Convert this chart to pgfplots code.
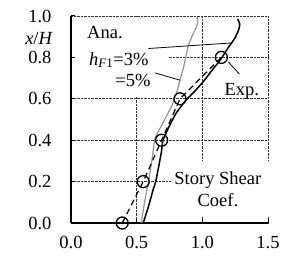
\documentclass[border=0pt]{standalone}
\usepackage{fontspec}
\setmainfont{Liberation Serif}
\usepackage{pgfplots}
\pgfplotsset{compat=1.18}
\newcommand{\fs}{\rmfamily\fontsize{18.5bp}{22bp}\selectfont}
\begin{document}
\begin{tikzpicture}[font=\fs]
\begin{axis}[
  scale only axis, width=197bp, height=207bp,
  xmin=0, xmax=1.5, ymin=0, ymax=1,
  axis lines*=left, axis line style={-, line width=2pt},
  xtick={0,0.5,1,1.5}, ytick={0,0.2,0.4,0.6,0.8,1.0},
  tick align=inside, major tick length=4bp, tick style={black, line width=1pt},
  grid=major, grid style={black!80, line width=0.6pt, dash pattern=on 0.6pt off 0.8pt},
  clip=false,
  ticklabel style={font=\fs},
  /pgf/number format/assume math mode=true,
  xticklabel style={/pgf/number format/.cd, fixed, fixed zerofill, precision=1, /tikz/.cd, yshift=-10bp},
  yticklabel style={/pgf/number format/.cd, fixed, fixed zerofill, precision=1, /tikz/.cd, xshift=-16bp},
]
\coordinate (sw) at (rel axis cs:0,0);
\coordinate (ne) at (rel axis cs:1,1);
% white label backgrounds
\fill[white] (axis cs:0.03,0.607) rectangle (axis cs:0.74,0.995);
\fill[white] (axis cs:0.76,0.035) rectangle (axis cs:1.52,0.30);
% h=5% (gray)
\addplot[gray!85, line width=1.2pt, smooth, tension=0.3] coordinates {
(0.535,0) (0.56,0.1) (0.59,0.2) (0.615,0.3) (0.63,0.37) (0.64,0.41) (0.68,0.46) (0.73,0.52) (0.77,0.57) (0.80,0.62) (0.83,0.69) (0.86,0.76) (0.88,0.82) (0.895,0.86) (0.92,0.90) (0.95,0.94) (0.965,0.97) (0.958,0.995)
};
% h=3% (black)
\addplot[black, line width=1.5pt, smooth, tension=0.3] coordinates {
(0.55,0) (0.59,0.08) (0.625,0.16) (0.645,0.2) (0.67,0.28) (0.69,0.35) (0.70,0.40) (0.75,0.47) (0.80,0.53) (0.87,0.59) (0.94,0.635) (1.01,0.685) (1.07,0.735) (1.115,0.77) (1.15,0.80) (1.20,0.85) (1.245,0.89) (1.275,0.93) (1.285,0.96) (1.27,0.985)
};
% Exp
\addplot[black, line width=1.2pt, dash pattern=on 6pt off 4pt, mark=o, mark size=6bp, mark options={solid, line width=1.3pt}] coordinates {
(0.39,0) (0.55,0.2) (0.69,0.4) (0.83,0.6) (1.145,0.8)
};
% leader lines
\draw[black, line width=0.8pt] (axis cs:0.59,0.843) -- (axis cs:1.225,0.87);
\draw[black, line width=0.8pt] (axis cs:0.64,0.725) -- (axis cs:0.83,0.69);
\draw[black, line width=0.8pt] (axis cs:1.198,0.778) -- (axis cs:1.282,0.720);
% texts
\node[anchor=base west, inner sep=0pt] at (axis cs:0.122,0.892) {Ana.};
\node[anchor=base west, inner sep=0pt] at (axis cs:0.137,0.763) {\textit{h}\textsubscript{\textit{F}1}=3\%};
\node[anchor=base west, inner sep=0pt] at (axis cs:0.336,0.658) {=5\%};
\node[anchor=base west, inner sep=0pt] at (axis cs:1.168,0.618) {Exp.};
\node[anchor=base, inner sep=0pt] at (axis cs:1.118,0.185) {Story Shear};
\node[anchor=base, inner sep=0pt] at (axis cs:1.118,0.081) {Coef.};
\node[anchor=east, inner sep=0pt, xshift=-18bp] at (axis cs:0,0.89) {\textit{x}/\textit{H}};
\end{axis}
\pgfresetboundingbox
\path[use as bounding box] ([shift={(-71bp,-34bp)}]sw) rectangle ([shift={(14bp,16bp)}]ne);
\end{tikzpicture}
\end{document}
